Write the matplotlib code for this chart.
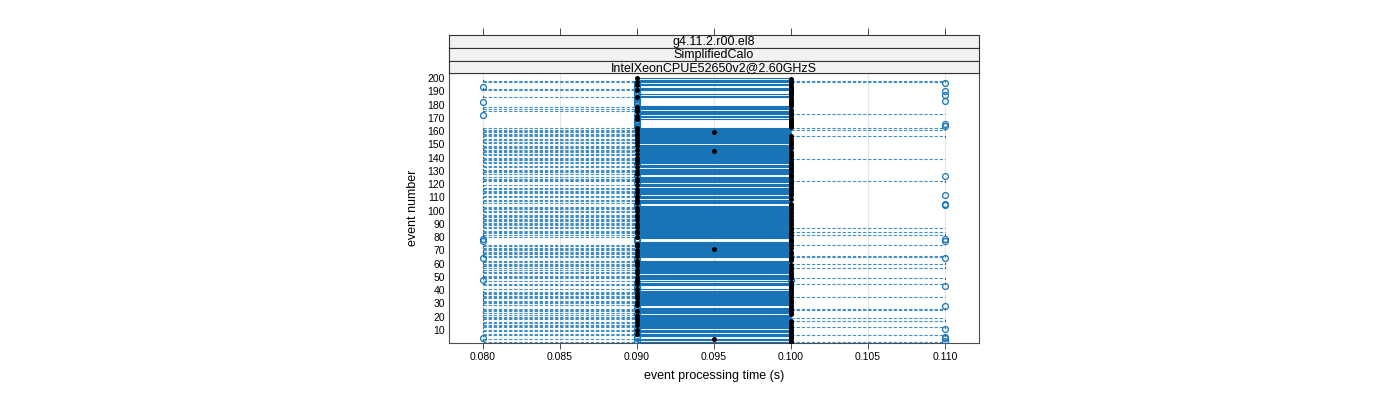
import matplotlib
matplotlib.use("Agg")
import matplotlib.pyplot as plt

plt.rcParams['font.family'] = ['Liberation Sans', 'DejaVu Sans']

# events 1..200, processing times (s)
events = list(range(1, 201))

# events whose box collapses onto 0.100 (0.090 runs become outliers)
flat_100 = [199, 196, 194, 193, 190, 189, 187, 185, 184, 183, 182, 181, 180, 176,
            172, 170, 168, 167, 166, 165, 164, 163, 150, 135, 132, 127, 126, 121,
            118, 112, 109, 105, 104, 79, 78, 77, 64, 63, 52, 46, 43, 42, 40, 28,
            27, 22, 11, 8, 5, 4, 2]
# events whose box collapses onto 0.090
flat_090 = [48]

# medians other than 0.100
median_090 = [200, 197, 195, 191, 186, 178, 177, 175, 171, 169, 162, 161, 160, 158,
              157, 155, 153, 151, 149, 146, 143, 140, 138, 136, 133, 130, 128, 124,
              122, 119, 116, 114, 111, 110, 108, 107, 106, 102, 100, 97, 95, 93, 90,
              88, 85, 83, 80, 75, 73, 70, 68, 66, 62, 61, 60, 58, 55, 53, 50, 47, 45,
              41, 38, 36, 34, 31, 29, 24, 21, 20, 19, 18, 16, 14, 10, 7]
median_095 = [159, 145, 71, 3]

# whisker ends
lo_whisker_090 = [200, 195, 188, 179, 174, 173, 171, 169, 155, 141, 120, 98, 86, 81,
                  76, 75, 56, 33, 17]
hi_whisker_110 = [198, 197, 173, 162, 161, 156, 139, 122, 87, 84, 82, 74, 66, 65, 60,
                  57, 49, 45, 35, 26, 25, 19, 17, 12, 6, 1]

# outlying runs
out_080 = [193, 182, 172, 79, 77, 64, 48, 4]
out_090 = [196, 194, 193, 190, 189, 187, 185, 184, 183, 182, 181, 180, 176, 172, 170,
           168, 167, 166, 165, 164, 163, 135, 127, 126, 121, 112, 105, 104, 79, 78,
           77, 64, 63, 46, 43, 42, 40, 28, 27, 22, 11, 8, 5, 4, 2]
out_100 = [48]
out_110 = [196, 190, 187, 183, 165, 164, 126, 112, 105, 104, 79, 77, 64, 43, 28, 11,
           5, 4, 2]

x_ticks = [0.080, 0.085, 0.090, 0.095, 0.100, 0.105, 0.110]
y_ticks = list(range(10, 201, 10))
strips = ['g4.11.2.r00.el8', 'SimplifiedCalo', 'IntelXeonCPUE52650v2@2.60GHzS']

blue = '#1874b6'
W, H = 1400, 400
fig = plt.figure(figsize=(14, 4), dpi=100)

def frame(l, t, r, b):
    return [l / W, 1 - b / H, (r - l) / W, (b - t) / H]

ax = fig.add_axes(frame(449, 73, 979, 343))
ax.set_xlim(0.0778, 0.1122)
ax.set_ylim(0.2, 203.8)

for xt in x_ticks:
    ax.axvline(xt, color='#e6e6e6', lw=0.8, zorder=0)

# per-event five-number summaries
q1, q3, med, lo, hi = [], [], [], [], []
for e in events:
    if e in flat_100:
        a = b = m = w0 = w1 = 0.100
    elif e in flat_090:
        a = b = m = w0 = w1 = 0.090
    else:
        a, b = 0.090, 0.100
        m = 0.090 if e in median_090 else (0.095 if e in median_095 else 0.100)
        w0 = 0.090 if e in lo_whisker_090 else 0.080
        w1 = 0.110 if e in hi_whisker_110 else 0.100
    q1.append(a); q3.append(b); med.append(m); lo.append(w0); hi.append(w1)

box_e = [e for e, a, b in zip(events, q1, q3) if b > a]
box_l = [a for a, b in zip(q1, q3) if b > a]
box_w = [b - a for a, b in zip(q1, q3) if b > a]
ax.barh(box_e, box_w, left=box_l, height=0.5, fill=False, edgecolor=blue,
        linewidth=0.8, zorder=2)

dash = (0, (3, 1.6))
for e, a, b, w0, w1 in zip(events, q1, q3, lo, hi):
    if w0 < a:
        ax.plot([w0, a], [e, e], color=blue, lw=0.8, linestyle=dash, zorder=1, alpha=0.8)
        ax.plot([w0, w0], [e - 0.25, e + 0.25], color=blue, lw=0.8, zorder=1)
    if w1 > b:
        ax.plot([b, w1], [e, e], color=blue, lw=0.8, linestyle=dash, zorder=1, alpha=0.8)
        ax.plot([w1, w1], [e - 0.25, e + 0.25], color=blue, lw=0.8, zorder=1)

for xv, lst in [(0.080, out_080), (0.090, out_090), (0.100, out_100), (0.110, out_110)]:
    ax.plot([xv] * len(lst), lst, 'o', mfc='none', mec=blue, ms=4.2, mew=0.9, zorder=3)

ax.plot(med, events, 'o', color='black', ms=3.6, mew=0, zorder=4)

ax.set_xticks(x_ticks)
ax.set_xticklabels(['%.3f' % v for v in x_ticks])
ax.set_yticks(y_ticks)
ax.tick_params(axis='x', direction='out', length=4.3, width=0.7, color='#4d4d4d',
               labelsize=7.5, pad=2)
ax.tick_params(axis='y', length=0, labelsize=7.5, pad=3)
for s in ax.spines.values():
    s.set_color('#4d4d4d')
    s.set_linewidth(0.8)
ax.set_xlabel('event processing time (s)', fontsize=9, labelpad=6)
ax.set_ylabel('event number', fontsize=9, labelpad=6)

# strips on top of the panel
tops = [35, 48, 61, 73]
for i, txt in enumerate(strips):
    sax = fig.add_axes(frame(449, tops[i], 979, tops[i + 1]))
    sax.set_facecolor('#f2f2f2')
    sax.set_xlim(ax.get_xlim())
    sax.set_ylim(0, 1)
    sax.set_yticks([])
    if i == 0:
        sax.set_xticks(x_ticks)
        sax.tick_params(axis='x', top=True, bottom=False, labeltop=False,
                        labelbottom=False, direction='out', length=5, width=0.7,
                        color='#4d4d4d')
    else:
        sax.set_xticks([])
    for s in sax.spines.values():
        s.set_color('#333333')
        s.set_linewidth(0.8)
    sax.text(0.5, 0.45, txt, transform=sax.transAxes, ha='center', va='center',
             fontsize=9)

fig.savefig('out.png', dpi=100)
